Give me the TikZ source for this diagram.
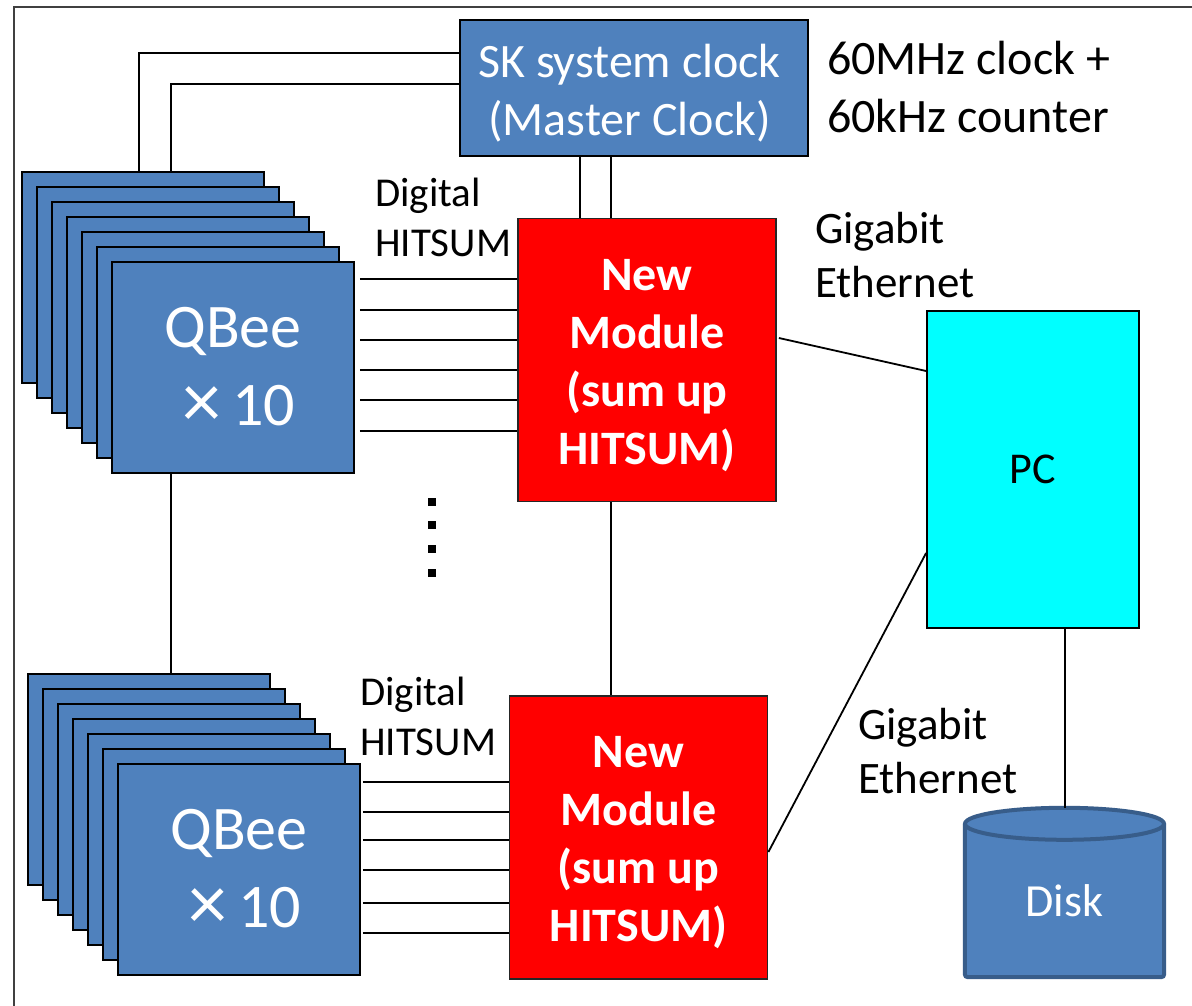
\documentclass[tikz,border=0pt]{standalone}
\usepackage{fontspec}
\setmainfont{Carlito}
\usetikzlibrary{calc,backgrounds}
\definecolor{qblue}{HTML}{4F81BD}
\definecolor{qborder}{HTML}{385D8A}
\definecolor{pccyan}{HTML}{00FFFF}
\definecolor{modred}{HTML}{FF0000}
\newcommand{\bigtimes}{\raisebox{-2pt}{\fontsize{78}{77}\selectfont ×}}
\begin{document}
\begin{tikzpicture}[x=1pt,y=-1pt,
  qbox/.style={draw=black, line width=1.8pt, fill=qblue, rectangle, anchor=north west,
    minimum width=242pt, minimum height=211pt, inner sep=0pt, text=white,
    align=center, font=\fontsize{62}{78}\selectfont},
  clockbox/.style={draw=black, line width=1.8pt, fill=qblue, rectangle,
    minimum width=348pt, minimum height=136pt, inner sep=0pt, text=white,
    align=center, font=\fontsize{48}{58}\selectfont},
  modbox/.style={draw=black!85, line width=1.8pt, fill=modred, rectangle,
    minimum width=258pt, minimum height=283pt, inner sep=0pt, text=white,
    align=center, font=\fontsize{48}{58}\selectfont\bfseries},
  pcbox/.style={draw=black, line width=1.8pt, fill=pccyan, rectangle,
    minimum width=212pt, minimum height=317pt, inner sep=0pt,
    font=\fontsize{44}{53}\selectfont},
  diskbody/.style={rectangle, minimum width=199pt, minimum height=153pt, inner sep=0pt,
    text=white, font=\fontsize{46}{55}\selectfont},
  lbl/.style={anchor=west, inner sep=0pt, align=left},
  wire/.style={draw=black, line width=1.8pt},
  dotsq/.style={fill=black, rectangle, minimum size=8pt, inner sep=0pt}
]
\useasboundingbox (0,0) rectangle (1192,1006);
% frame
\draw[line width=2pt, black!75] (14,1012) -- (14,7) -- (1198,7);

% top stack of QBee boards
\foreach \i in {0,...,5} \node[qbox] (qa\i) at ({21+15*\i},{171+15*\i}) {};
\node[qbox] (qa6) at (111,261) {QBee\\\hspace*{12pt}\bigtimes\,10};
% bottom stack of QBee boards
\foreach \i in {0,...,5} \node[qbox] (qb\i) at ({27+15*\i},{673+15*\i}) {};
\node[qbox] (qb6) at (117,763) {QBee\\\hspace*{12pt}\bigtimes\,10};

% clock
\node[clockbox] (clock) at (634,88) {\rule{0pt}{44pt}SK system clock\hspace*{9pt}\\(Master Clock)\hspace*{9pt}};
\node[lbl, font=\fontsize{48}{58}\selectfont] (freq) at (827,87) {60MHz clock +\\60kHz counter};

% modules
\node[modbox] (red1) at (647,360) {\rule{0pt}{42pt}New\\Module\\(sum up\\HITSUM)};
\node[modbox] (red2) at (638.5,837.5) {\rule{0pt}{42pt}New\\Module\\(sum up\\HITSUM)};

% PC
\node[pcbox] (pc) at (1033,469.5) {PC};

% disk
\node[diskbody] (disk) at (1064.5,900.5) {Disk};
\coordinate (disktop) at ($(disk.north)+(0,-16)$);
\begin{pgfonlayer}{background}
  \fill[white] (0,0) rectangle (1192,1006);
  \fill[qblue, rounded corners=3pt] (disk.north west) -- (disk.south west) -- (disk.south east) -- (disk.north east) -- cycle;
  \draw[qborder, line width=4pt, rounded corners=3pt] (disk.north west) -- (disk.south west) -- (disk.south east) -- (disk.north east);
  \draw[qborder, line width=4pt, fill=qblue] (disk.north) ellipse [x radius=99.5, y radius=16];
\end{pgfonlayer}

% labels
\node[lbl, font=\fontsize{41}{50}\selectfont] (dh1) at (375,217.5) {Digital\\HITSUM};
\node[lbl, font=\fontsize{41}{50}\selectfont] (dh2) at (360,716.5) {Digital\\HITSUM};
\node[lbl, font=\fontsize{45}{54}\selectfont] (ge1) at (815,255) {Gigabit\\Ethernet};
\node[lbl, font=\fontsize{45}{54}\selectfont] (ge2) at (858,751) {Gigabit\\Ethernet};

% dots
\node[dotsq] (d1) at (432,502) {};
\node[dotsq] (d2) at (432,525) {};
\node[dotsq] (d3) at (432,549) {};
\node[dotsq] (d4) at (432,573) {};

% clock wires to top stack
\draw[wire] ($(qa0.north west)+(118,0)$) |- ($(clock.west)+(0,-35)$);
\draw[wire] ($(qa0.north west)+(150,0)$) |- ($(clock.west)+(0,-4)$);
% clock to module 1
\coordinate (c1) at ($(red1.north)+(-67,0)$);
\coordinate (c2) at ($(red1.north)+(-36,0)$);
\draw[wire] (c1) -- (c1 |- clock.south);
\draw[wire] (c2) -- (c2 |- clock.south);
% top stack to bottom stack
\coordinate (sl) at ($(qa6.south west)+(60,0)$);
\draw[wire] (sl) -- (sl |- qb0.north);
% module 1 to module 2
\coordinate (rr) at ($(red1.south)+(-36,0)$);
\draw[wire] (rr) -- (rr |- red2.north);
% HITSUM lines
\foreach \y in {279,310,340,370,400,431}
  \draw[wire] ($(qa6.east |- 0,\y)+(5,0)$) -- (red1.west |- 0,\y);
\foreach \y in {782,812,840,870,903,933}
  \draw[wire] ($(qb6.east |- 0,\y)+(2,0)$) -- (red2.west |- 0,\y);
% ethernet
\draw[wire] ($(red1.east)+(2,-22)$) -- ($(pc.west)+(0,-98.5)$);
\draw[wire] ($(red2.east)+(0,14.5)$) -- ($(pc.west)+(0,83.5)$);
% PC to disk
\coordinate (pd) at ($(pc.south)+(32,0)$);
\draw[wire] (pd) -- (pd |- disktop);
\end{tikzpicture}
\end{document}
